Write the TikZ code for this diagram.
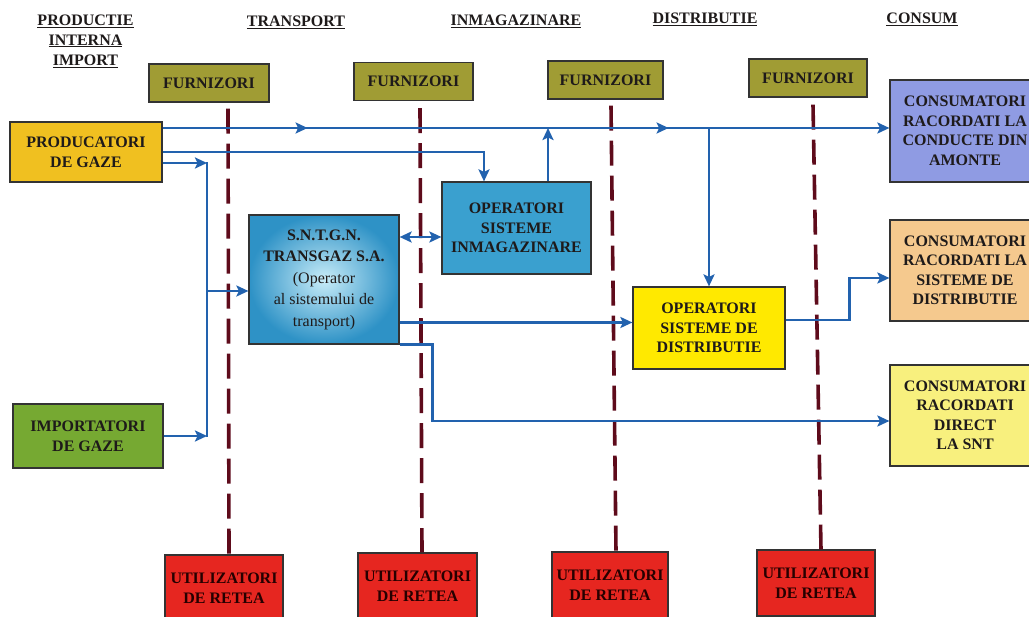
\documentclass[tikz,border=0pt]{standalone}
\usepackage{fontspec}
\setmainfont{Liberation Serif}
\usetikzlibrary{arrows.meta,decorations.markings,calc}
\definecolor{cprod}{HTML}{F0C020}
\definecolor{cimp}{HTML}{76A932}
\definecolor{cfurn}{HTML}{A09C34}
\definecolor{ctrans}{HTML}{2E92C6}
\definecolor{ctransin}{HTML}{C8ECF8}
\definecolor{cinmag}{HTML}{3AA0CF}
\definecolor{cdistr}{HTML}{FFE900}
\definecolor{camont}{HTML}{8F9BE3}
\definecolor{cdistc}{HTML}{F5C98E}
\definecolor{cdirect}{HTML}{F8F07E}
\definecolor{cred}{HTML}{E62620}
\definecolor{cdash}{HTML}{5E0B1B}
\definecolor{carrow}{HTML}{2262AE}
\definecolor{ctext}{HTML}{1E1A1A}
\newcommand\bxf{\fontsize{16}{20}\selectfont\bfseries}
\begin{document}
\begin{tikzpicture}[x=1pt,y=-1pt,
  box/.style={draw=black!80, line width=1.2pt, inner sep=0pt, align=center,
    font=\bxf, text=ctext},
  hdr/.style={font=\bxf, text=ctext, inner sep=0pt, align=center},
  furn/.style={box, fill=cfurn, minimum height=38pt},
  util/.style={box, fill=cred, minimum height=66pt, text=black!85!red},
  tip/.style={},
  flow/.style={draw=carrow, line width=2.7pt, -{Stealth[length=12pt,width=11pt,inset=2.5pt]}},
  flowline/.style={draw=carrow, line width=2.7pt},
  dflow/.style={draw=carrow, line width=2.7pt, {Stealth[length=12pt,width=11pt,inset=2.5pt]}-{Stealth[length=12pt,width=11pt,inset=2.5pt]}},
  dline/.style={draw=cdash, line width=3.6pt, dash pattern=on 25pt off 10pt}
]
\useasboundingbox (0,0) rectangle (1029,617);
\clip (0,0) rectangle (1029,617);

% headers
\node[hdr] (h1) at (85.5,41) {\underline{PRODUCTIE}\\\underline{INTERNA}\\\underline{IMPORT}};
\node[hdr] (h2) at (296,22) {\underline{TRANSPORT}};
\node[hdr] (h3) at (516,21) {\underline{INMAGAZINARE}};
\node[hdr] (h4) at (705,19) {\underline{DISTRIBUTIE}};
\node[hdr] (h5) at (922,19) {\underline{CONSUM}};

% furnizori
\node[furn, minimum width=120pt] (f1) at (209,83) {FURNIZORI};
\node[furn, minimum width=119pt] (f2) at (413.5,81.5) {FURNIZORI};
\node[furn, minimum width=115pt] (f3) at (605.5,80) {FURNIZORI};
\node[furn, minimum width=118pt] (f4) at (808,78) {FURNIZORI};

% utilizatori
\node[util, minimum width=118pt] (u1) at (224,588) {UTILIZATORI\\DE RETEA};
\node[util, minimum width=119pt] (u2) at (417.5,586) {UTILIZATORI\\DE RETEA};
\node[util, minimum width=116pt] (u3) at (610,585) {UTILIZATORI\\DE RETEA};
\node[util, minimum width=118pt] (u4) at (816,583) {UTILIZATORI\\DE RETEA};

% dashed separators
\draw[dline] ($(f1.south)+(19,6)$) -- ($(u1.north)+(5,0)$);
\draw[dline] ($(f2.south)+(6.5,7)$) -- ($(u2.north)+(4.5,0)$);
\draw[dline] ($(f3.south)+(5.5,6)$) -- ($(u3.north)+(6,0)$);
\draw[dline] ($(f4.south)+(5,7)$) -- ($(u4.north)+(5,0)$);

% main boxes
\node[box, fill=cprod, minimum width=152pt, minimum height=60pt] (prod) at (86,152) {PRODUCATORI\\DE GAZE};
\node[box, fill=cimp, minimum width=150pt, minimum height=64pt] (imp) at (88,436) {IMPORTATORI\\DE GAZE};
\node[box, shading=radial, inner color=ctransin, outer color=ctrans, minimum width=150pt, minimum height=129pt,
  font=\fontsize{16}{21.5}\selectfont\bfseries] (trans) at (324,279.5)
  {S.N.T.G.N.\\TRANSGAZ S.A.\\{\mdseries (Operator}\\{\mdseries al sistemului de}\\{\mdseries transport)}};
\node[box, fill=cinmag, minimum width=149pt, minimum height=92pt, font=\fontsize{16}{19.5}\selectfont\bfseries] (inmag) at (516.5,228) {OPERATORI\\SISTEME\\INMAGAZINARE};
\node[box, fill=cdistr, minimum width=152pt, minimum height=82pt, font=\fontsize{16}{19.5}\selectfont\bfseries] (dist) at (709,328) {OPERATORI\\SISTEME DE\\DISTRIBUTIE};
\node[box, fill=camont, minimum width=150pt, minimum height=102pt, font=\fontsize{16}{19.5}\selectfont\bfseries] (camonte) at (965,131) {CONSUMATORI\\RACORDATI LA\\CONDUCTE DIN\\AMONTE};
\node[box, fill=cdistc, minimum width=150pt, minimum height=101pt, font=\fontsize{16}{19.5}\selectfont\bfseries] (cdist) at (965,270.5) {CONSUMATORI\\RACORDATI LA\\SISTEME DE\\DISTRIBUTIE};
\node[box, fill=cdirect, minimum width=150pt, minimum height=101pt, font=\fontsize{16}{19.5}\selectfont\bfseries] (cdirect) at (965,415.5) {CONSUMATORI\\RACORDATI\\DIRECT\\LA SNT};

% connectors
\coordinate (a1s) at ($(prod.east)+(0,-24)$);
\draw[flow, postaction={decorate}, decoration={markings,
   mark=at position 145pt with {\arrow[carrow]{Stealth[length=12pt,width=11pt,inset=2.5pt]}},
   mark=at position 506pt with {\arrow[carrow]{Stealth[length=12pt,width=11pt,inset=2.5pt]}}}]
   (a1s) -- (a1s -| camonte.west);

\coordinate (a2e) at ($(inmag.north)+(-32.5,0)$);
\draw[flow] (prod.east) -| (a2e);

\coordinate (up) at ($(inmag.north)+(31.5,0)$);
\draw[flow] (up) -- (up |- a1s);
\draw[flow] (dist.north |- a1s) -- (dist.north);

\coordinate (a3s) at ($(prod.east)+(0,11)$);
\coordinate (busT) at (207,163);
\coordinate (busB) at (207,436);
\draw[flow] (a3s) -- (busT);
\draw[flowline, line cap=rect] (busT) -- (busB);
\draw[flow] (imp.east) -- (busB);
\coordinate (tin) at ($(trans.west)+(0,11.5)$);
\draw[flow] (busT |- tin) -- (tin);

\coordinate (a4s) at ($(trans.east)+(0,-42.5)$);
\draw[dflow] (a4s) -- (a4s -| inmag.west);

\coordinate (a7s) at ($(trans.east)+(0,43)$);
\draw[flow] (a7s) -- (a7s -| dist.west);

\coordinate (cdw) at ($(cdirect.west)+(0,5.5)$);
\draw[flow] (trans.south east) -- ++(33,0) |- (cdw);

\coordinate (a9s) at ($(dist.east)+(0,-8)$);
\coordinate (a9e) at ($(cdist.west)+(0,7.5)$);
\draw[flow] (a9s) -- ++(64,0) |- (a9e);
\end{tikzpicture}
\end{document}
